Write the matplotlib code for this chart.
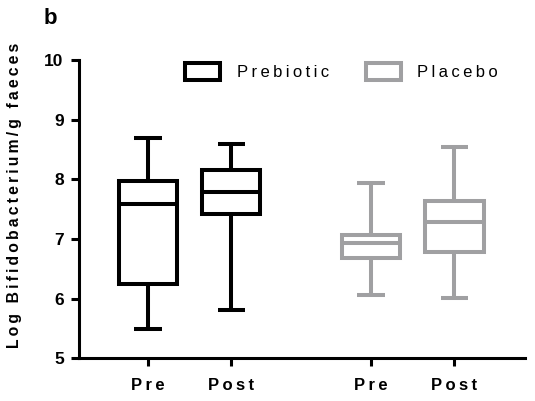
import matplotlib.pyplot as plt
from matplotlib.patches import Patch

plt.rcParams['font.family'] = ['Liberation Sans', 'DejaVu Sans']

# summary values (log CFU / g faeces)
groups = ["Prebiotic", "Placebo"]
tick_labels = ["Pre", "Post", "Pre", "Post"]
positions = [1, 2, 3.68, 4.68]
whislo = [5.49, 5.81, 6.06, 6.01]
q1 = [6.24, 7.42, 6.68, 6.78]
med = [7.59, 7.78, 6.93, 7.29]
q3 = [7.97, 8.15, 7.07, 7.64]
whishi = [8.69, 8.60, 7.93, 8.55]
colors = ["black", "black", "#a0a0a2", "#a0a0a2"]


def spaced(s):
    return "\u2009".join(s)


fig = plt.figure(figsize=(5.35, 4.01), dpi=100)
ax = fig.add_axes([0.1477, 0.107, 0.834, 0.743])

lw = 2.9
for i in range(4):
    stats = [dict(med=med[i], q1=q1[i], q3=q3[i], whislo=whislo[i], whishi=whishi[i])]
    c = colors[i]
    ax.bxp(stats, positions=[positions[i]], widths=0.7, capwidths=0.33,
           showfliers=False, patch_artist=True,
           boxprops=dict(facecolor="white", edgecolor=c, linewidth=lw),
           medianprops=dict(color=c, linewidth=lw),
           whiskerprops=dict(color=c, linewidth=lw, solid_capstyle="butt"),
           capprops=dict(color=c, linewidth=lw, solid_capstyle="butt"))

ax.set_xlim(0.17, 5.53)
ax.set_ylim(5, 10)
ax.set_yticks([5, 6, 7, 8, 9, 10])
ax.set_xticks(positions)
ax.set_xticklabels([spaced(t) for t in tick_labels], fontsize=12, fontweight="bold")
for t in ax.get_yticklabels():
    t.set_fontsize(12.5)
    t.set_fontweight("bold")

for s in ["top", "right"]:
    ax.spines[s].set_visible(False)
for s in ["left", "bottom"]:
    ax.spines[s].set_linewidth(2.2)
ax.tick_params(axis="both", width=2.2, length=6)
ax.tick_params(axis="y", pad=5)
ax.tick_params(axis="x", pad=8)

ax.set_ylabel(spaced("Log Bifidobacterium/g faeces"), fontsize=11.3, fontweight="bold")
ax.yaxis.set_label_coords(-0.128, 0.545)

handles = [Patch(facecolor="white", edgecolor=colors[0], linewidth=lw),
           Patch(facecolor="white", edgecolor=colors[2], linewidth=lw)]
ax.legend(handles, [spaced(g) for g in groups], ncol=2, frameon=False,
          loc="upper left", bbox_to_anchor=(0.238, 0.99), borderaxespad=0,
          borderpad=0, fontsize=12, handlelength=2.1, handleheight=1.15,
          handletextpad=1.0, columnspacing=2.2)

fig.text(0.094, 0.955, "b", fontsize=16, fontweight="bold", ha="center", va="center")

fig.savefig("out.png", dpi=100)
